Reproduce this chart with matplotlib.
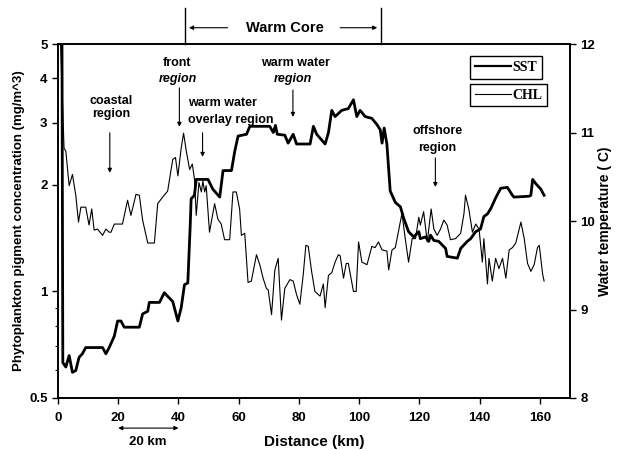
import matplotlib
matplotlib.use("Agg")
import matplotlib.pyplot as plt
from matplotlib.ticker import FixedLocator, FixedFormatter, NullFormatter

plt.rcParams['font.family'] = ['Liberation Sans', 'DejaVu Sans']
plt.rcParams['font.weight'] = 'bold'

# ---- data ----
sst_km = [1.3, 1.6, 2.6, 3.7, 4.8, 5.9, 7.0, 8.1, 9.2, 14.8, 15.9, 17.0, 18.7, 19.8, 20.9, 22.0,
          27.0, 28.1, 29.8, 30.3, 33.7, 35.3, 36.4, 38.1, 39.8, 40.9, 42.0, 43.1, 43.9, 44.2,
          45.3, 45.9, 49.8, 51.4, 53.7, 54.8, 57.6, 58.7, 59.8, 62.6, 63.7, 70.3, 71.5, 72.2,
          72.8, 75.3, 76.4, 78.1, 79.2, 83.7, 84.8, 85.9, 88.7, 89.8, 90.9, 92.0, 94.2, 96.4,
          98.1, 99.2, 100.3, 102.0, 104.2, 105.9, 107.0, 107.6, 108.3, 109.2, 110.3, 112.0,
          113.7, 114.8, 116.4, 118.1, 119.8, 120.3, 122.0, 123.1, 123.7, 124.8, 126.4, 128.7,
          129.2, 132.6, 133.7, 135.9, 137.0, 138.7, 140.3, 141.4, 142.6, 143.7, 145.3, 147.0,
          149.2, 150.9, 151.4, 156.4, 157.0, 157.6, 158.7, 160.3, 161.4]
sst_val = [12.3, 8.40, 8.35, 8.48, 8.29, 8.31, 8.46, 8.50, 8.57, 8.57, 8.50, 8.57, 8.70, 8.87, 8.87, 8.80,
           8.80, 8.95, 8.98, 9.08, 9.08, 9.19, 9.15, 9.09, 8.87, 9.02, 9.28, 9.30, 9.95, 10.25,
           10.29, 10.47, 10.47, 10.36, 10.27, 10.57, 10.57, 10.79, 10.96, 10.98, 11.07, 11.07, 11.00, 11.08,
           10.98, 10.97, 10.88, 10.98, 10.87, 10.87, 11.07, 10.98, 10.87, 11.00, 11.25, 11.18, 11.25, 11.27,
           11.37, 11.18, 11.25, 11.18, 11.16, 11.09, 11.03, 10.88, 11.05, 10.87, 10.34, 10.21,
           10.16, 10.03, 9.88, 9.82, 9.88, 9.80, 9.82, 9.77, 9.84, 9.78, 9.77, 9.69,
           9.60, 9.58, 9.69, 9.77, 9.80, 9.88, 9.91, 10.05, 10.08, 10.14, 10.26, 10.37,
           10.38, 10.29, 10.27, 10.28, 10.29, 10.47, 10.42, 10.36, 10.29]

chl_km = [0.7, 2.0, 2.6, 3.7, 4.8, 5.3, 5.9, 6.8, 7.6, 9.2, 10.3, 11.2, 12.0, 13.1, 14.8, 15.9, 17.0,
          17.6, 18.7, 21.4, 23.1, 24.2, 25.9, 27.0, 28.1, 29.8, 32.0, 33.1, 34.8, 36.4, 38.1, 39.0,
          39.8, 40.9, 41.7, 42.6, 43.7, 44.6, 45.3, 45.9, 46.8, 47.6, 48.1, 48.7, 49.2, 50.3, 52.0,
          53.1, 54.2, 55.3, 57.0, 58.1, 59.2, 60.3, 60.9, 62.0, 63.1, 64.2, 65.9, 67.0, 68.1, 69.2,
          69.8, 70.9, 72.0, 73.1, 74.2, 75.3, 77.0, 78.1, 79.2, 80.3, 81.4, 82.3, 83.1, 84.2, 85.3,
          87.0, 88.1, 88.7, 89.8, 90.9, 92.0, 93.1, 93.7, 94.8, 95.7, 96.4, 98.1, 99.0, 99.8, 100.9,
          102.6, 104.2, 105.3, 106.4, 107.6, 109.2, 109.8, 110.9, 112.0, 114.2, 115.3, 116.4, 117.6,
          118.7, 119.8, 120.3, 121.4, 122.6, 123.9, 124.8, 125.9, 127.0, 128.1, 129.2, 130.3, 132.0,
          133.7, 134.8, 135.3, 136.4, 137.6, 138.7, 139.8, 140.9, 141.4, 142.6, 143.1, 144.2, 145.3,
          146.4, 147.6, 148.7, 149.8, 150.9, 152.0, 153.7, 154.8, 155.9, 157.0, 158.1, 159.2, 159.8,
          160.9, 161.4]
chl_val = [5.5, 2.54, 2.49, 1.99, 2.14, 2.01, 1.87, 1.57, 1.73, 1.73, 1.54, 1.71, 1.49, 1.50, 1.44, 1.50, 1.47,
           1.47, 1.55, 1.55, 1.81, 1.64, 1.88, 1.87, 1.59, 1.37, 1.37, 1.77, 1.85, 1.92, 2.36, 2.39,
           2.12, 2.54, 2.80, 2.49, 2.21, 2.29, 2.08, 1.64, 2.03, 1.91, 2.05, 1.91, 1.99, 1.47, 1.77,
           1.60, 1.55, 1.40, 1.40, 1.91, 1.91, 1.71, 1.44, 1.46, 1.06, 1.07, 1.27, 1.19, 1.09, 1.02,
           1.01, 0.86, 1.15, 1.24, 0.83, 1.02, 1.08, 1.07, 0.98, 0.92, 1.11, 1.35, 1.34, 1.14, 1.00,
           0.97, 1.05, 0.90, 1.11, 1.13, 1.21, 1.27, 1.26, 1.09, 1.20, 1.20, 1.00, 1.00, 1.38, 1.21,
           1.19, 1.34, 1.33, 1.38, 1.31, 1.30, 1.15, 1.31, 1.33, 1.66, 1.41, 1.21, 1.41,
           1.41, 1.62, 1.54, 1.68, 1.38, 1.71, 1.50, 1.44, 1.50, 1.59, 1.54, 1.40, 1.41,
           1.46, 1.66, 1.87, 1.71, 1.47, 1.55, 1.50, 1.21, 1.41, 1.05, 1.24, 1.07, 1.24,
           1.16, 1.24, 1.09, 1.31, 1.33, 1.37, 1.57, 1.41, 1.20, 1.14, 1.19, 1.33, 1.35,
           1.12, 1.07]

x_ticks = [0, 20, 40, 60, 80, 100, 120, 140, 160]
chl_ticks = [0.5, 1, 2, 3, 4, 5]
chl_tick_labels = ['0.5', '1', '2', '3', '4', '5']
sst_ticks = [8, 9, 10, 11, 12]

# ---- figure ----
fig = plt.figure(figsize=(6.17, 4.5), dpi=100)
ax = fig.add_axes([58/617, 52/450, 512/617, 354/450])
ax2 = ax.twinx()

ax.plot(chl_km, chl_val, color='black', lw=0.8)
ax.set_yscale('log')
ax.set_ylim(0.5, 5)
ax.set_xlim(0, 170)
ax.yaxis.set_major_locator(FixedLocator(chl_ticks))
ax.yaxis.set_major_formatter(FixedFormatter(chl_tick_labels))
ax.yaxis.set_minor_locator(FixedLocator([0.6, 0.7, 0.8, 0.9]))
ax.yaxis.set_minor_formatter(NullFormatter())
ax.set_xticks(x_ticks)

sst_line, = ax2.plot(sst_km, sst_val, color='black', lw=2.0)
ax2.set_ylim(8, 12)
ax2.set_yticks(sst_ticks)

for a in (ax, ax2):
    a.tick_params(axis='both', which='major', labelsize=9.5, length=4, width=1, direction='out')
    a.tick_params(axis='both', which='minor', length=2, width=0.8, direction='out')
    for s in a.spines.values():
        s.set_linewidth(1.2)
ax.tick_params(axis='x', which='major', pad=6)
for lab in ax.get_xticklabels() + ax.get_yticklabels() + ax2.get_yticklabels():
    lab.set_fontweight('bold')

ax.set_xlabel('Distance (km)', fontsize=11, fontweight='bold', labelpad=8)
ax.set_ylabel('Phytoplankton pigment concentration (mg/m^3)', fontsize=9.5, fontweight='bold', labelpad=3)
ax2.set_ylabel('Water temperature ( C)', fontsize=10, fontweight='bold', rotation=90, labelpad=2)

# ---- legends (two separate boxes) ----
chl_handle = plt.Line2D([], [], color='black', lw=0.8)
sst_handle = plt.Line2D([], [], color='black', lw=1.6)
lp = dict(family='Liberation Serif', weight='bold', size=10)
leg1 = ax2.legend([sst_handle], ['SST'], loc='upper left', bbox_to_anchor=(0.805, 0.966),
                  prop=lp, frameon=True, fancybox=False, edgecolor='black', framealpha=1,
                  borderaxespad=0, handlelength=2.6, handletextpad=0.1, borderpad=0.35)
leg1.get_frame().set_linewidth(1.0)
ax2.add_artist(leg1)
leg2 = ax2.legend([chl_handle], ['CHL'], loc='upper left', bbox_to_anchor=(0.805, 0.888),
                  prop=lp, frameon=True, fancybox=False, edgecolor='black', framealpha=1,
                  borderaxespad=0, handlelength=2.6, handletextpad=0.1, borderpad=0.35)
leg2.get_frame().set_linewidth(1.0)

# ---- annotations ----
T = ax.get_xaxis_transform()  # x in data, y in axes fraction
arrow = dict(arrowstyle='-|>', lw=0.8, color='black', mutation_scale=6, shrinkA=0, shrinkB=0)
fs = 9

def ann(x, y_from, y_to):
    ax.annotate('', xy=(x, y_to), xytext=(x, y_from), xycoords=T, textcoords=T, arrowprops=arrow)

ax.text(17.5, 0.82, 'coastal\nregion', transform=T, ha='center', va='center', fontsize=fs,
        fontweight='bold', linespacing=1.1)
ann(17.2, 0.749, 0.636)

ax.text(39.5, 0.946, 'front', transform=T, ha='center', va='center', fontsize=fs, fontweight='bold')
ax.text(39.7, 0.901, 'region', transform=T, ha='center', va='center', fontsize=fs,
        fontweight='bold', style='italic')
ann(40.3, 0.876, 0.766)

ax.text(54.7, 0.833, 'warm water', transform=T, ha='center', va='center', fontsize=fs, fontweight='bold')
ax.text(57.5, 0.785, 'overlay region', transform=T, ha='center', va='center', fontsize=fs, fontweight='bold')
ann(48.0, 0.749, 0.681)

ax.text(78.7, 0.946, 'warm water', transform=T, ha='center', va='center', fontsize=fs, fontweight='bold')
ax.text(78.0, 0.901, 'region', transform=T, ha='center', va='center', fontsize=fs,
        fontweight='bold', style='italic')
ann(78.0, 0.870, 0.794)

ax.text(126.0, 0.754, 'offshore', transform=T, ha='center', va='center', fontsize=fs, fontweight='bold')
ax.text(126.0, 0.706, 'region', transform=T, ha='center', va='center', fontsize=fs, fontweight='bold')
ann(125.3, 0.678, 0.596)

# Warm Core bracket above the plot
for xk in (42.2, 107.3):
    ax.plot([xk, xk], [1.0, 1.102], transform=T, color='black', lw=1.0, clip_on=False)
ax.text(75.3, 1.046, 'Warm Core', transform=T, ha='center', va='center', fontsize=10.5, fontweight='bold')
ax.annotate('', xy=(43.5, 1.046), xytext=(56.3, 1.046), xycoords=T, textcoords=T, arrowprops=arrow,
            annotation_clip=False)
ax.annotate('', xy=(106.0, 1.046), xytext=(93.7, 1.046), xycoords=T, textcoords=T, arrowprops=arrow,
            annotation_clip=False)

# 20 km scale bar below the axis
ax.annotate('', xy=(40, -0.085), xytext=(20, -0.085), xycoords=T, textcoords=T,
            arrowprops=dict(arrowstyle='<|-|>', lw=0.8, color='black', mutation_scale=6,
                            shrinkA=0, shrinkB=0), annotation_clip=False)
ax.text(29.7, -0.125, '20 km', transform=T, ha='center', va='center', fontsize=9.5, fontweight='bold')

fig.savefig('out.png', dpi=100)
